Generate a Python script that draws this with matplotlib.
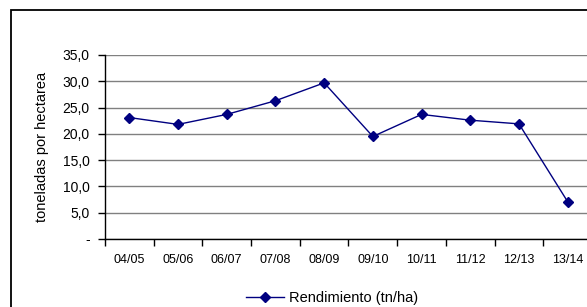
import matplotlib.pyplot as plt
from matplotlib.patches import Rectangle

plt.rcParams['font.family'] = ['Liberation Sans', 'DejaVu Sans']

campanas = ['04/05', '05/06', '06/07', '07/08', '08/09', '09/10',
            '10/11', '11/12', '12/13', '13/14']
rendimiento = [23.1, 21.8, 23.7, 26.3, 29.7, 19.5, 23.7, 22.6, 21.9, 7.1]
y_ticks = [0, 5, 10, 15, 20, 25, 30, 35]
y_labels = ['-', '5,0', '10,0', '15,0', '20,0', '25,0', '30,0', '35,0']

W, H = 587, 307
fig = plt.figure(figsize=(W / 100, H / 100), dpi=100)

# plot area (runs past the right edge, as in the reference)
left, right, top, bottom = 105, 592, 55, 239
ax = fig.add_axes([left / W, 1 - bottom / H, (right - left) / W, (bottom - top) / H])

x = range(len(campanas))
ax.plot(x, rendimiento, color='#000080', lw=1.0, marker='D', markersize=5,
        markerfacecolor='#000080', markeredgecolor='#000080',
        label='Rendimiento (tn/ha)', clip_on=False, zorder=3)

ax.set_xlim(-0.5, len(campanas) - 0.5)
ax.set_ylim(0, 35)
ax.set_yticks(y_ticks)
ax.set_yticklabels(y_labels, fontsize=10)
ax.set_xticks([i - 0.5 for i in range(len(campanas) + 1)])
ax.set_xticklabels([])
ax.set_xticks(list(x), minor=True)
ax.set_xticklabels(campanas, minor=True, fontsize=9)
ax.tick_params(axis='x', which='minor', length=0, pad=11)
ax.tick_params(axis='x', which='major', length=5, width=1, direction='out')
ax.tick_params(axis='y', length=5, width=1, direction='out', pad=6)

ax.yaxis.grid(True, color='#808080', lw=1)
ax.set_axisbelow(True)
for s in ['top', 'right']:
    ax.spines[s].set_visible(False)
for s in ['left', 'bottom']:
    ax.spines[s].set_linewidth(1)
    ax.spines[s].set_color('black')

ax.set_ylabel('toneladas por hectarea', fontsize=10.5, labelpad=10)

leg = fig.legend(loc='center', bbox_to_anchor=(332 / W, 1 - 298 / H),
                 frameon=False, fontsize=10.5, handlelength=2.6,
                 handletextpad=0.3)

# outer chart border (cut off at right and bottom)
fig.patches.append(Rectangle((11 / W, -0.1), 1.2, 1 - 10 / H + 0.1,
                             transform=fig.transFigure, fill=False,
                             edgecolor='black', lw=1.3))

fig.savefig('out.png', dpi=100)
